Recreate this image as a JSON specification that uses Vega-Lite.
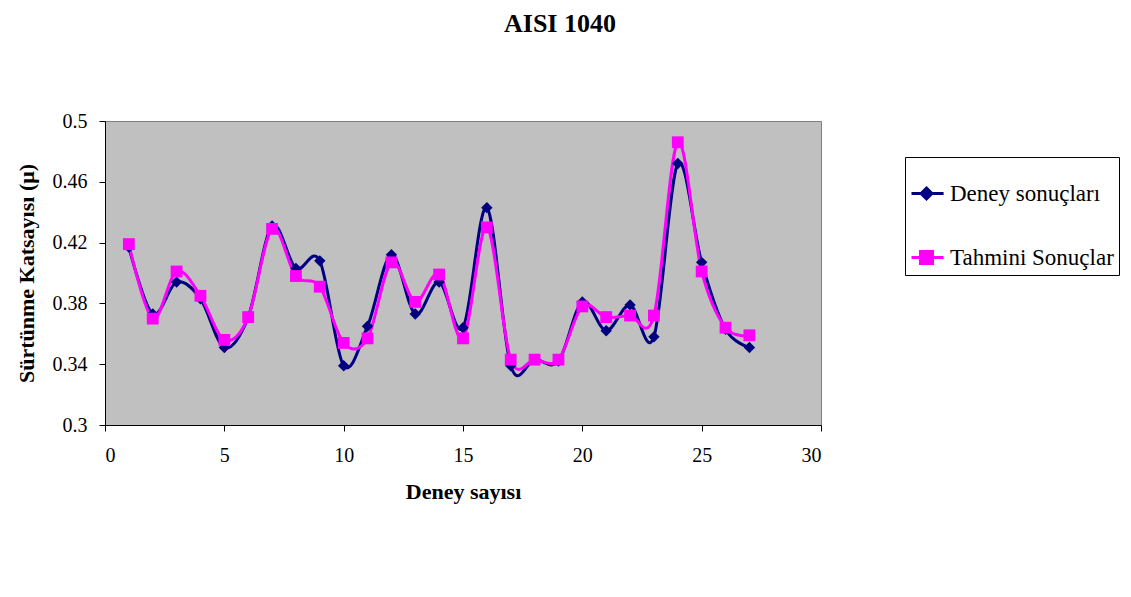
{
  "$schema": "https://vega.github.io/schema/vega-lite/v6.json",
  "width": 716,
  "height": 304,
  "autosize": {"type": "none"},
  "padding": {"left": 105, "top": 121, "right": 310, "bottom": 172},
  "background": "white",
  "title": {
    "text": "AISI 1040",
    "font": "Liberation Serif",
    "fontSize": 26,
    "fontWeight": "bold",
    "color": "black",
    "anchor": "middle",
    "frame": "group",
    "dx": 97,
    "baseline": "bottom",
    "offset": 48
  },
  "data": {
    "values": [
      {"n": 1, "series": "Deney sonuçları", "mu": 0.417},
      {"n": 2, "series": "Deney sonuçları", "mu": 0.373},
      {"n": 3, "series": "Deney sonuçları", "mu": 0.394},
      {"n": 4, "series": "Deney sonuçları", "mu": 0.383},
      {"n": 5, "series": "Deney sonuçları", "mu": 0.351},
      {"n": 6, "series": "Deney sonuçları", "mu": 0.371},
      {"n": 7, "series": "Deney sonuçları", "mu": 0.431},
      {"n": 8, "series": "Deney sonuçları", "mu": 0.403},
      {"n": 9, "series": "Deney sonuçları", "mu": 0.408},
      {"n": 10, "series": "Deney sonuçları", "mu": 0.339},
      {"n": 11, "series": "Deney sonuçları", "mu": 0.365},
      {"n": 12, "series": "Deney sonuçları", "mu": 0.412},
      {"n": 13, "series": "Deney sonuçları", "mu": 0.373},
      {"n": 14, "series": "Deney sonuçları", "mu": 0.394},
      {"n": 15, "series": "Deney sonuçları", "mu": 0.364},
      {"n": 16, "series": "Deney sonuçları", "mu": 0.443},
      {"n": 17, "series": "Deney sonuçları", "mu": 0.339},
      {"n": 18, "series": "Deney sonuçları", "mu": 0.343},
      {"n": 19, "series": "Deney sonuçları", "mu": 0.342},
      {"n": 20, "series": "Deney sonuçları", "mu": 0.381},
      {"n": 21, "series": "Deney sonuçları", "mu": 0.362},
      {"n": 22, "series": "Deney sonuçları", "mu": 0.379},
      {"n": 23, "series": "Deney sonuçları", "mu": 0.358},
      {"n": 24, "series": "Deney sonuçları", "mu": 0.472},
      {"n": 25, "series": "Deney sonuçları", "mu": 0.407},
      {"n": 26, "series": "Deney sonuçları", "mu": 0.363},
      {"n": 27, "series": "Deney sonuçları", "mu": 0.351},
      {"n": 1, "series": "Tahmini Sonuçlar", "mu": 0.419},
      {"n": 2, "series": "Tahmini Sonuçlar", "mu": 0.370},
      {"n": 3, "series": "Tahmini Sonuçlar", "mu": 0.401},
      {"n": 4, "series": "Tahmini Sonuçlar", "mu": 0.385},
      {"n": 5, "series": "Tahmini Sonuçlar", "mu": 0.356},
      {"n": 6, "series": "Tahmini Sonuçlar", "mu": 0.371},
      {"n": 7, "series": "Tahmini Sonuçlar", "mu": 0.429},
      {"n": 8, "series": "Tahmini Sonuçlar", "mu": 0.398},
      {"n": 9, "series": "Tahmini Sonuçlar", "mu": 0.391},
      {"n": 10, "series": "Tahmini Sonuçlar", "mu": 0.354},
      {"n": 11, "series": "Tahmini Sonuçlar", "mu": 0.357},
      {"n": 12, "series": "Tahmini Sonuçlar", "mu": 0.407},
      {"n": 13, "series": "Tahmini Sonuçlar", "mu": 0.381},
      {"n": 14, "series": "Tahmini Sonuçlar", "mu": 0.399},
      {"n": 15, "series": "Tahmini Sonuçlar", "mu": 0.357},
      {"n": 16, "series": "Tahmini Sonuçlar", "mu": 0.430},
      {"n": 17, "series": "Tahmini Sonuçlar", "mu": 0.343},
      {"n": 18, "series": "Tahmini Sonuçlar", "mu": 0.343},
      {"n": 19, "series": "Tahmini Sonuçlar", "mu": 0.343},
      {"n": 20, "series": "Tahmini Sonuçlar", "mu": 0.378},
      {"n": 21, "series": "Tahmini Sonuçlar", "mu": 0.371},
      {"n": 22, "series": "Tahmini Sonuçlar", "mu": 0.372},
      {"n": 23, "series": "Tahmini Sonuçlar", "mu": 0.372},
      {"n": 24, "series": "Tahmini Sonuçlar", "mu": 0.486},
      {"n": 25, "series": "Tahmini Sonuçlar", "mu": 0.401},
      {"n": 26, "series": "Tahmini Sonuçlar", "mu": 0.364},
      {"n": 27, "series": "Tahmini Sonuçlar", "mu": 0.359}
    ]
  },
  "encoding": {
    "x": {
      "field": "n",
      "type": "quantitative",
      "title": "Deney sayısı",
      "scale": {"domain": [0, 30], "nice": false, "zero": false},
      "axis": {"values": [0, 5, 10, 15, 20, 25, 30], "titlePadding": 16, "labelPadding": 14}
    },
    "y": {
      "field": "mu",
      "type": "quantitative",
      "title": "Sürtünme Katsayısı (μ)",
      "scale": {"domain": [0.3, 0.5], "nice": false, "zero": false},
      "axis": {"values": [0.3, 0.34, 0.38, 0.42, 0.46, 0.5], "format": "~g", "titlePadding": 14, "labelPadding": 12}
    },
    "color": {
      "field": "series",
      "type": "nominal",
      "scale": {"domain": ["Deney sonuçları", "Tahmini Sonuçlar"], "range": ["#000080", "#FF00FF"]},
      "legend": {
        "orient": "none",
        "legendX": 800,
        "legendY": 36,
        "title": null,
        "padding": 5,
        "rowPadding": 20,
        "symbolSize": 3600,
        "symbolStrokeWidth": 3,
        "labelOffset": -23,
        "labelFont": "Liberation Serif",
        "labelFontSize": 23,
        "labelColor": "black",
        "labelLimit": 300,
        "strokeColor": "black",
        "fillColor": "white",
        "encode": {
          "symbols": {
            "update": {
              "shape": {"signal": "datum.value === 'Deney sonuçları' ? 'M-1,0L0.07,0M-0.5,-0.18L-0.32,0L-0.5,0.18L-0.68,0Z' : 'M-1,0L0.07,0M-0.7,-0.2L-0.3,-0.2L-0.3,0.2L-0.7,0.2Z'"}
            }
          }
        }
      }
    }
  },
  "layer": [
    {
      "mark": {"type": "line", "interpolate": "cardinal", "strokeWidth": 3}
    },
    {
      "transform": [{"filter": "datum.series === 'Deney sonuçları'"}],
      "mark": {"type": "point", "shape": "diamond", "filled": true, "opacity": 1, "size": 130}
    },
    {
      "transform": [{"filter": "datum.series === 'Tahmini Sonuçlar'"}],
      "mark": {"type": "point", "shape": "square", "filled": true, "opacity": 1, "size": 140}
    }
  ],
  "config": {
    "view": {"fill": "#C0C0C0", "stroke": "#808080", "strokeWidth": 1},
    "axis": {
      "grid": false,
      "domainColor": "black",
      "tickColor": "black",
      "tickSize": 6,
      "labelFont": "Liberation Serif",
      "labelFontSize": 20,
      "labelColor": "black",
      "titleFont": "Liberation Serif",
      "titleFontSize": 22,
      "titleFontWeight": "bold",
      "titleColor": "black"
    }
  }
}
